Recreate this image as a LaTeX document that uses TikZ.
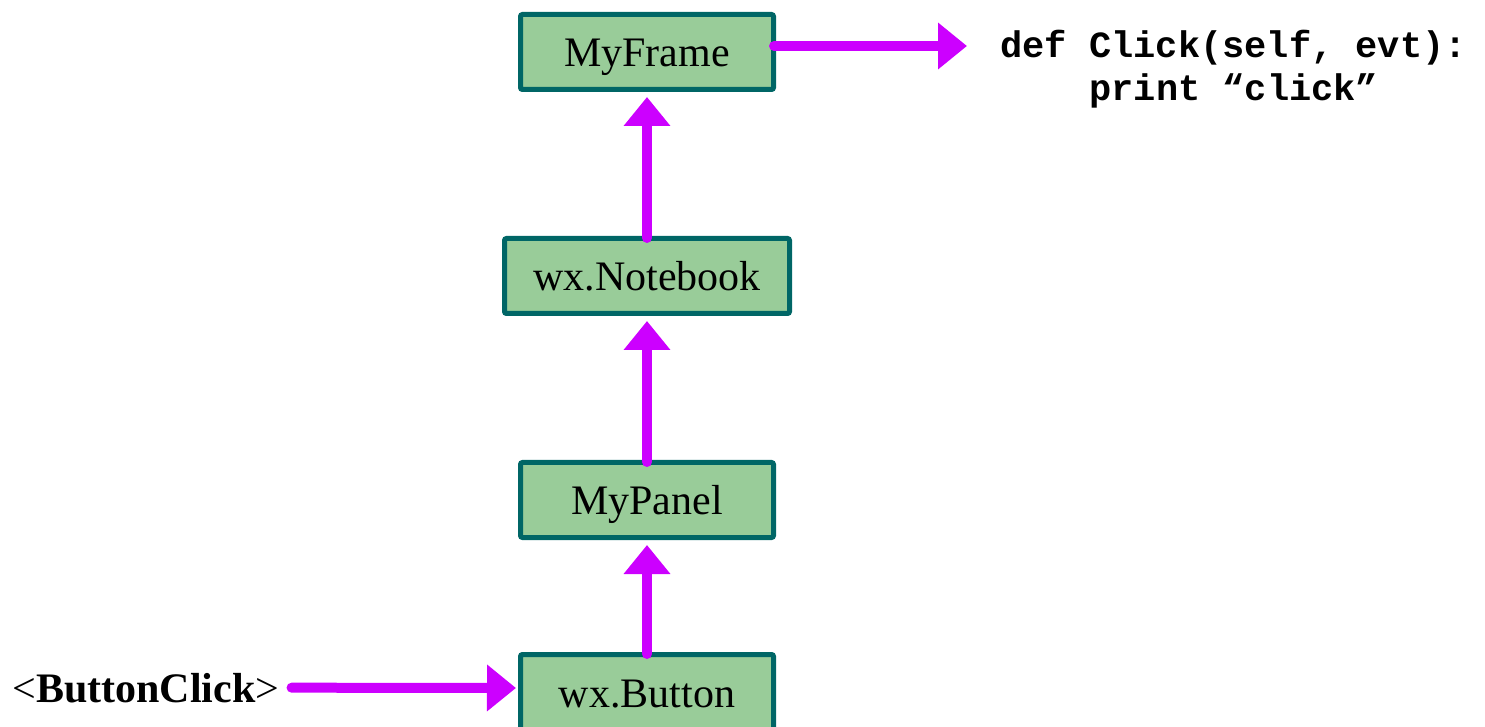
\documentclass[tikz,border=0pt]{standalone}
\usepackage{fontspec}
\setmainfont{Liberation Serif}
\newfontfamily\codefont{Liberation Mono}
\usetikzlibrary{arrows.meta}
\definecolor{boxfill}{HTML}{99CC99}
\definecolor{boxline}{HTML}{006666}
\definecolor{arrowmag}{HTML}{CC00FF}
\tikzset{
  boxnode/.style={draw=boxline, fill=boxfill, line width=2.5pt, rounded corners=1pt,
    minimum height=37.5pt, inner sep=0pt, text height=15pt, text depth=0pt,
    font=\fontsize{21}{24}\selectfont},
  flowarrow/.style={draw=arrowmag, line width=5pt, line cap=round,
    -{Triangle[length=14.5pt,width=22.5pt]}},
  codetext/.style={anchor=base west, inner sep=0pt, font=\codefont\bfseries\fontsize{18.5}{21.5}\selectfont}
}
\begin{document}
\begin{tikzpicture}[x=0.5pt,y=-0.5pt]
\useasboundingbox (0,0) rectangle (1485,727);
\node[boxnode, minimum width=126.5pt] (frame) at (647,52) {MyFrame};
\node[boxnode, minimum width=142.5pt] (nb) at (647,276) {wx.Notebook};
\node[boxnode, minimum width=126.5pt] (panel) at (647,500) {MyPanel};
\node[boxnode, minimum width=126.5pt] (btn) at (647,692) {wx.Button};
\node[anchor=base west, inner sep=0pt, font=\fontsize{21}{24}\selectfont] (bc) at (12,702) {<\textbf{ButtonClick}>};
\node[codetext] (code1) at (1000,58) {def Click(self, evt):};
\node[codetext] (code2) at (1089,101) {print “click”};
\coordinate (tipR) at (967,46);
\draw[flowarrow] ([xshift=-1pt,yshift=3pt]frame.east) -- (tipR);
\draw[flowarrow] ([yshift=-1pt]nb.north) -- ([yshift=-2.5pt]frame.south);
\draw[flowarrow] ([yshift=-1pt]panel.north) -- ([yshift=-2.5pt]nb.south);
\draw[flowarrow] ([yshift=-1pt]btn.north) -- ([yshift=-2.5pt]panel.south);
\draw[flowarrow] ([xshift=6pt]bc.east) -- ([xshift=-1pt,yshift=2pt]btn.west);
\end{tikzpicture}
\end{document}
